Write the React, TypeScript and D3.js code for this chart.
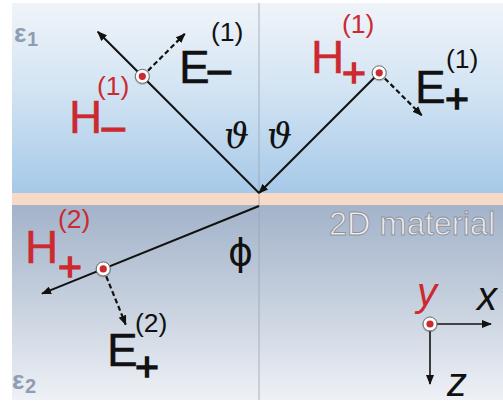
import React from "react";
import * as d3 from "d3";

// Geometry of the reflection / refraction sketch (angles in degrees from the normal)
const incidenceAngle = 45; // ϑ, incident and reflected
const refractionAngle = 68; // ϕ, transmitted
const rayNames = ["reflected", "incident", "transmitted"];
const rayLengths = [228, 170, 234];
const fieldPointAlong = [165, 170, 168];
// E points to the right-hand (+1) or left-hand (-1) normal of each ray
const eFieldSide = [1, 1, -1];
const eFieldLength = 60;

const W = 503;
const H = 403;

const FONT = "'Liberation Sans', Arial, Helvetica, sans-serif";
const RED = "#cc2a30";
const INK = "#111111";

type Lbl = {
  base: string;
  sup: string;
  sub: string;
  color: string;
  x: number;
  y: number;
  supDx: number;
  supDy: number;
  subDx: number;
  subDy: number;
};

const fieldLabels: Lbl[] = [
  { base: "E", sup: "(1)", sub: "–", color: INK, x: 179, y: 83, supDx: 32, supDy: -42, subDx: 29, subDy: 0 },
  { base: "H", sup: "(1)", sub: "–", color: RED, x: 69, y: 133, supDx: 28, supDy: -38, subDx: 33, subDy: 7 },
  { base: "H", sup: "(1)", sub: "+", color: RED, x: 311, y: 73, supDx: 31, supDy: -40, subDx: 31, subDy: 14 },
  { base: "E", sup: "(1)", sub: "+", color: INK, x: 415, y: 103, supDx: 31, supDy: -35, subDx: 30, subDy: 10 },
  { base: "H", sup: "(2)", sub: "+", color: RED, x: 25, y: 263, supDx: 33, supDy: -35, subDx: 33, subDy: 18 },
  { base: "E", sup: "(2)", sub: "+", color: INK, x: 107, y: 366, supDx: 28, supDy: -34, subDx: 28, subDy: 15 },
];

function FieldLabel({ l }: { l: Lbl }) {
  return (
    <text fill={l.color} fontFamily={FONT} x={l.x} y={l.y}>
      <tspan fontSize={46} stroke={l.color} strokeWidth={0.4}>{l.base}</tspan>
      <tspan x={l.x + l.supDx} y={l.y + l.supDy} fontSize={26.5}>
        {l.sup}
      </tspan>
      <tspan
        x={l.x + l.subDx}
        y={l.y + l.subDy}
        fontSize={41}
        stroke={l.color}
        strokeWidth={1.3}
      >
        {l.sub}
      </tspan>
    </text>
  );
}

function FieldDot({ x, y }: { x: number; y: number }) {
  return (
    <g>
      <circle cx={x} cy={y + 0.8} r={7.8} fill="#000" opacity={0.18} />
      <circle cx={x} cy={y} r={7} fill="#fff" stroke="#6b6b6b" strokeWidth={1} />
      <circle cx={x} cy={y} r={3.6} fill={RED} />
    </g>
  );
}

export default function App() {
  const left = 12;
  const top = 3;
  const bottom = 400;
  const bandTop = 193;
  const bandBottom = 205;
  const xO = 259;

  const rad = d3.scaleLinear().domain([0, 180]).range([0, Math.PI]);
  // screen direction of each ray (y grows downwards)
  const dirs = [
    [-Math.sin(rad(incidenceAngle)), -Math.cos(rad(incidenceAngle))],
    [Math.sin(rad(incidenceAngle)), -Math.cos(rad(incidenceAngle))],
    [-Math.sin(rad(refractionAngle)), Math.cos(rad(refractionAngle))],
  ];
  const origins = [
    [xO, bandTop],
    [xO, bandTop],
    [xO, bandBottom + 1],
  ];
  const line = d3.line();

  const rays = rayNames.map((name, i) => {
    const [ox, oy] = origins[i];
    const [dx, dy] = dirs[i];
    const far: [number, number] = [ox + dx * rayLengths[i], oy + dy * rayLengths[i]];
    const dot: [number, number] = [ox + dx * fieldPointAlong[i], oy + dy * fieldPointAlong[i]];
    // E is perpendicular to the ray, in the plane of incidence
    const ex = -dy * eFieldSide[i];
    const ey = dx * eFieldSide[i];
    const eStart: [number, number] = [dot[0] + ex * 8, dot[1] + ey * 8];
    const eEnd: [number, number] = [dot[0] + ex * eFieldLength, dot[1] + ey * eFieldLength];
    return { name, origin: [ox, oy] as [number, number], far, dot, eStart, eEnd };
  });

  const axisOrigin: [number, number] = [430, 324];

  return (
    <svg
      width={W}
      height={H}
      viewBox={`0 0 ${W} ${H}`}
      style={{ position: "absolute", left: 0, top: 0, background: "#fff" }}
    >
      <defs>
        <linearGradient id="upper" x1="0" y1="0" x2="0" y2="1">
          <stop offset="0" stopColor="#f0f4f9" />
          <stop offset="0.45" stopColor="#d3e4f3" />
          <stop offset="1" stopColor="#a6c9e8" />
        </linearGradient>
        <linearGradient id="lower" x1="0" y1="0" x2="0" y2="1">
          <stop offset="0" stopColor="#a3b3ca" />
          <stop offset="0.5" stopColor="#c6d0de" />
          <stop offset="1" stopColor="#eef1f6" />
        </linearGradient>
        <marker id="head" viewBox="0 0 10 8" refX="9" refY="4" markerWidth="10" markerHeight="8" markerUnits="userSpaceOnUse" orient="auto">
          <path d="M0,0 L10,4 L0,8 Z" fill={INK} />
        </marker>
      </defs>

      <rect x={left} y={top} width={W - left} height={bandTop - top} fill="url(#upper)" />
      <rect x={left} y={bandTop} width={W - left} height={bandBottom - bandTop} fill="#f6d9c6" />
      <rect x={left} y={bandBottom} width={W - left} height={bottom - bandBottom} fill="url(#lower)" />

      {/* surface normal */}
      <line x1={xO} x2={xO} y1={top} y2={bottom} stroke="#9aa3b0" strokeWidth={0.8} />

      {/* media */}
      <g fill="#8f9db0" fontFamily={FONT} fontWeight="bold">
        <text x={14} y={42} fontSize={26}>
          ε<tspan x={27} y={46} fontSize={20}>1</tspan>
        </text>
        <text x={12} y={389} fontSize={26}>
          ε<tspan x={25} y={393} fontSize={20}>2</tspan>
        </text>
      </g>
      <text
        x={329}
        y={235}
        fontFamily={FONT}
        fontSize={32.5}
        fill="#f3ebe8"
        stroke="#8c93a0"
        strokeWidth={0.9}
      >
        2D material
      </text>

      {/* rays */}
      {rays.map((r) => (
        <path
          key={r.name}
          d={(r.name === "incident" ? line([r.far, r.origin]) : line([r.origin, r.far])) ?? ""}
          stroke={INK}
          strokeWidth={2}
          fill="none"
          markerEnd="url(#head)"
        />
      ))}

      {/* electric field vectors */}
      {rays.map((r) => (
        <path
          key={r.name + "-e"}
          d={line([r.eStart, r.eEnd]) ?? ""}
          stroke={INK}
          strokeWidth={2.2}
          strokeDasharray="5 3"
          fill="none"
          markerEnd="url(#head)"
        />
      ))}

      {rays.map((r) => (
        <FieldDot key={r.name + "-h"} x={r.dot[0]} y={r.dot[1]} />
      ))}

      {fieldLabels.map((l, i) => (
        <FieldLabel key={i} l={l} />
      ))}

      {/* angles */}
      <g fontFamily="'DejaVu Serif', serif" fontStyle="italic" fontSize={35} fill={INK}>
        <text x={224} y={148}>ϑ</text>
        <text x={267} y={148}>ϑ</text>
      </g>
      <text x={228} y={265} fontFamily="'DejaVu Sans', sans-serif" fontSize={38} fill={INK}>
        ϕ
      </text>

      {/* coordinate frame */}
      <path d={line([axisOrigin, [axisOrigin[0] + 61, axisOrigin[1]]]) ?? ""} stroke={INK} strokeWidth={1.6} markerEnd="url(#head)" />
      <path d={line([axisOrigin, [axisOrigin[0], axisOrigin[1] + 60]]) ?? ""} stroke={INK} strokeWidth={1.6} markerEnd="url(#head)" />
      <g fontFamily={FONT} fontStyle="italic" fontSize={40}>
        <text x={417} y={306} fill={RED}>y</text>
        <text x={477} y={310} fill={INK}>x</text>
        <text x={447} y={396} fill={INK}>z</text>
      </g>
      <FieldDot x={axisOrigin[0]} y={axisOrigin[1]} />
    </svg>
  );
}
